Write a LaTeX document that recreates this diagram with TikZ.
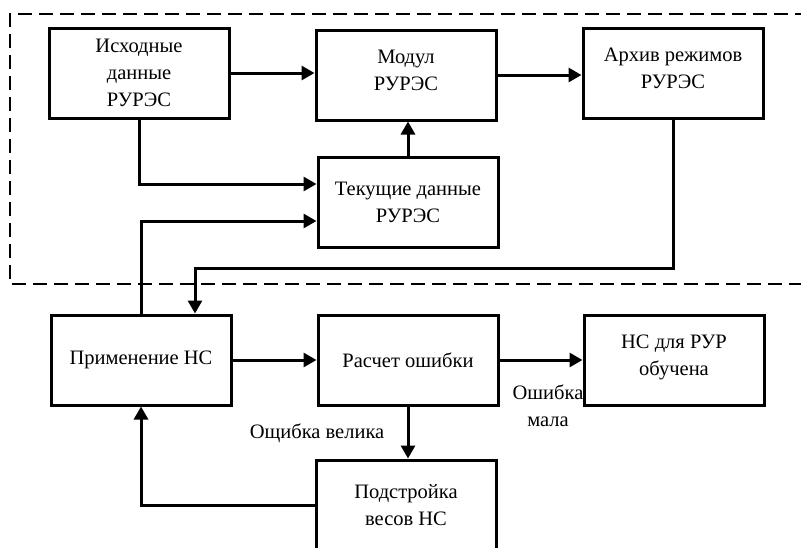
\documentclass[tikz,border=0pt]{standalone}
\usepackage{fontspec}
\setmainfont{Liberation Serif}
\usetikzlibrary{arrows.meta,calc}
\begin{document}
\begin{tikzpicture}[x=1pt,y=-1pt,
 box/.style={draw,line width=3pt,minimum width=180pt,minimum height=90pt,align=center,inner sep=0pt,font=\fontsize{20.5}{27}\selectfont},
 conn/.style={line width=3pt},
 arr/.style={conn,-{Triangle[length=13pt,width=14pt]}},
 lbl/.style={font=\fontsize{20.5}{27}\selectfont,align=center,inner sep=0pt}]
\useasboundingbox (0,0) rectangle (801,547);
\clip (0,0) rectangle (801,547);
\draw[line width=2.6pt,dash pattern=on 14pt off 7pt] (830,14) -- (10,14) -- (10,284) -- (830,284);
\node[box] (isx) at (139,73) {Исходные\\данные\\РУРЭС};
\node[box] (mod) at (406,75) {Модул\\РУРЭС\\[-17pt]};
\node[box] (arch) at (673,73) {Архив режимов\\РУРЭС\\[-17pt]};
\node[box] (tek) at (408,202) {Текущие данные\\РУРЭС};
\node[box] (prim) at (141,360) {Применение НС};
\node[box] (rasch) at (408,360) {Расчет ошибки};
\node[box] (ns) at (674,360) {НС для РУР\\обучена\\[-17pt]};
\node[box] (podst) at (406,505) {Подстройка\\весов НС};
\draw[arr] (isx.east) -- (mod.west |- isx.east);
\draw[arr] (mod.east) -- (arch.west |- mod.east);
\draw[arr] (isx.south) |- ([yshift=18pt]tek.west);
\draw[arr] (prim.north) |- ([yshift=-19pt]tek.west);
\draw[arr] (tek.north) -- (tek.north |- mod.south);
\coordinate (c1) at (195,268);
\draw[arr] (arch.south) |- (c1) -- (c1 |- prim.north);
\draw[arr] (prim.east) -- (rasch.west);
\draw[arr] (rasch.east) -- (ns.west);
\draw[arr] (rasch.south) -- (rasch.south |- podst.north);
\draw[arr] (podst.west) -| (prim.south);
\node[lbl] (l1) at (317,433) {Ощибка велика};
\node[lbl] (l2) at (548,406) {Ошибка\\мала};
\end{tikzpicture}
\end{document}
